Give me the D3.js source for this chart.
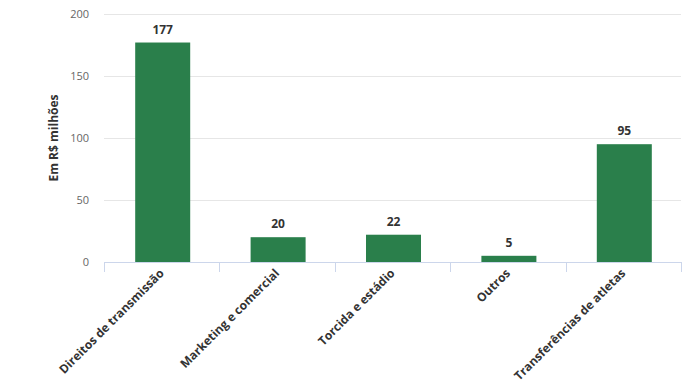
<!DOCTYPE html>
<html><head><meta charset="utf-8">
<script src="https://cdn.jsdelivr.net/npm/d3@7"></script>
<style>body{margin:0;background:#fff}svg{display:block}text{font-family:"Open Sans",sans-serif}</style>
</head><body>
<svg id="c" width="698" height="392"></svg>
<script>
const categories = ["Direitos de transmissão","Marketing e comercial","Torcida e estádio","Outros","Transferências de atletas"];
const values = [177, 20, 22, 5, 95];
const yTicks = [0, 50, 100, 150, 200];
const yTitle = "Em R$ milhões";

const svg = d3.select("#c");
const m = {l:104, r:17, t:14, b:130};
const W = 698, H = 392;
const x = d3.scaleBand().domain(categories).range([m.l, W - m.r]).paddingInner(0).paddingOuter(0);
const y = d3.scaleLinear().domain([0,200]).range([H - m.b, m.t]);

svg.append("g").selectAll("line").data(yTicks.filter(d=>d>0)).join("line")
  .attr("x1", m.l).attr("x2", W - m.r)
  .attr("y1", d=>y(d)+0.5).attr("y2", d=>y(d)+0.5)
  .attr("stroke","#e6e6e6");

svg.append("g").selectAll("text").data(yTicks).join("text")
  .attr("x", 89).attr("y", d=>y(d)+4)
  .attr("text-anchor","end").attr("font-size",11).attr("fill","#666")
  .text(d=>d);

svg.append("text").attr("transform",`translate(58,${(m.t + H - m.b)/2}) rotate(-90)`)
  .attr("text-anchor","middle").attr("font-size",12).attr("font-weight","bold").attr("fill","#333")
  .text(yTitle);

const bw = 55;
svg.append("g").selectAll("rect").data(values).join("rect")
  .attr("x",(d,i)=>x(categories[i]) + x.bandwidth()/2 - bw/2 + 1)
  .attr("width", bw)
  .attr("y", d=>y(d))
  .attr("height", d=>y(0)-y(d))
  .attr("fill","#2a7f4b");

svg.append("g").selectAll("text").data(values).join("text")
  .attr("x",(d,i)=>x(categories[i]) + x.bandwidth()/2 + 1)
  .attr("y", d=>y(d)-9)
  .attr("text-anchor","middle").attr("font-size",12).attr("font-weight","bold").attr("fill","#333")
  .text(d=>d);

const y0 = y(0);
svg.append("line").attr("x1",m.l).attr("x2",W-m.r).attr("y1",y0+0.5).attr("y2",y0+0.5).attr("stroke","#ccd6eb");
const bounds = categories.map(c=>x(c)).concat([x(categories[categories.length-1])+x.bandwidth()]);
svg.append("g").selectAll("line").data(bounds).join("line")
  .attr("x1",d=>Math.round(d)+0.5).attr("x2",d=>Math.round(d)+0.5)
  .attr("y1",y0).attr("y2",y0+10).attr("stroke","#ccd6eb");

svg.append("g").selectAll("text").data(categories).join("text")
  .attr("transform", c=>`translate(${x(c)+x.bandwidth()/2+3},${y0+12}) rotate(-45)`)
  .attr("text-anchor","end").attr("font-size",12).attr("font-weight","bold").attr("fill","#333")
  .text(c=>c);
</script>
</body></html>
